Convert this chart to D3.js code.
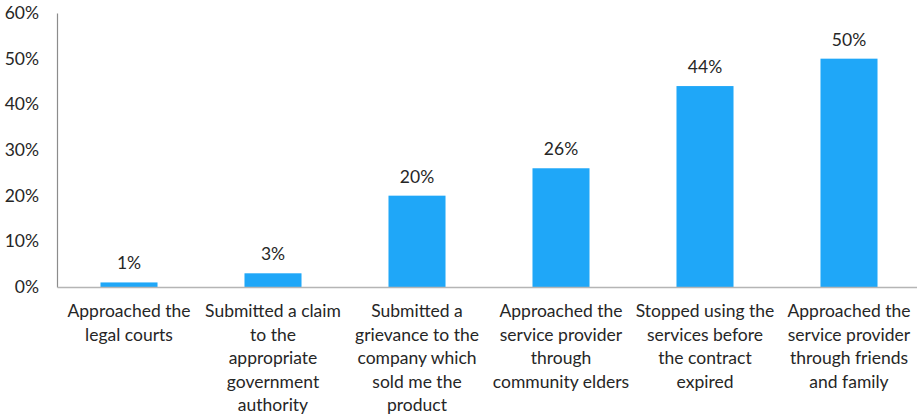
<!DOCTYPE html>
<html>
<head>
<meta charset="utf-8">
<script src="https://cdn.jsdelivr.net/npm/d3@7"></script>
<style>
  html, body { margin: 0; padding: 0; background: #fff; }
  svg { display: block; }
  text { font-family: Lato, "Open Sans", sans-serif; fill: #262626; }
</style>
</head>
<body>
<svg id="chart" width="917" height="417"></svg>
<script>
// Responses: what people did about the problem
const categories = [
  "Approached the legal courts",
  "Submitted a claim to the appropriate government authority",
  "Submitted a grievance to the company which sold me the product",
  "Approached the service provider through community elders",
  "Stopped using the services before the contract expired",
  "Approached the service provider through friends and family"
];
// Line breaks used for each category label
const categoryLines = [
  ["Approached the", "legal courts"],
  ["Submitted a claim", "to the", "appropriate", "government", "authority"],
  ["Submitted a", "grievance to the", "company which", "sold me the", "product"],
  ["Approached the", "service provider", "through", "community elders"],
  ["Stopped using the", "services before", "the contract", "expired"],
  ["Approached the", "service provider", "through friends", "and family"]
];
const values = [1, 3, 20, 26, 44, 50];
const yTicks = [0, 10, 20, 30, 40, 50, 60];

const svg = d3.select("#chart");
const plotLeft = 57, plotRight = 921, plotTop = 13, plotBottom = 287;

const x = d3.scaleBand().domain(categories).range([plotLeft, plotRight]).paddingInner(0.604).paddingOuter(0.302);
const y = d3.scaleLinear().domain([0, 60]).range([plotBottom, plotTop]);

// Bars
svg.append("g").selectAll("rect")
  .data(values)
  .join("rect")
  .attr("x", (d, i) => x(categories[i]))
  .attr("width", x.bandwidth())
  .attr("y", d => y(d))
  .attr("height", d => y(0) - y(d))
  .attr("fill", "#1fa7f8");

// Value labels
svg.append("g").selectAll("text")
  .data(values)
  .join("text")
  .attr("x", (d, i) => x(categories[i]) + x.bandwidth() / 2)
  .attr("y", d => y(d) - 13)
  .attr("text-anchor", "middle")
  .attr("font-size", 17.5)
  .text(d => d + "%");

// Y axis
const yAxis = svg.append("g")
  .attr("transform", `translate(${plotLeft},0)`)
  .call(d3.axisLeft(y).tickValues(yTicks).tickSize(0).tickPadding(18).tickFormat(d => d + "%"));
yAxis.select(".domain").attr("stroke", "#8c8c8c").attr("stroke-width", 1.2);
yAxis.selectAll("text").attr("font-size", 17.5).style("font-family", "Lato, 'Open Sans', sans-serif").attr("fill", "#333");

// X axis
const xAxis = svg.append("g")
  .attr("transform", `translate(0,${plotBottom})`)
  .call(d3.axisBottom(x).tickSize(0).tickFormat(""));
xAxis.select(".domain").attr("stroke", "#b5b5b5").attr("stroke-width", 1.5);

// Wrapped category labels
const labelG = svg.append("g");
categories.forEach((c, i) => {
  const cx = x(c) + x.bandwidth() / 2;
  const t = labelG.append("text")
    .attr("text-anchor", "middle")
    .attr("font-size", 17.5)
    .attr("x", cx)
    .attr("y", plotBottom + 30);
  categoryLines[i].forEach((line, j) => {
    t.append("tspan")
      .attr("x", cx)
      .attr("dy", j === 0 ? 0 : 23.5)
      .text(line);
  });
});
</script>
</body>
</html>
